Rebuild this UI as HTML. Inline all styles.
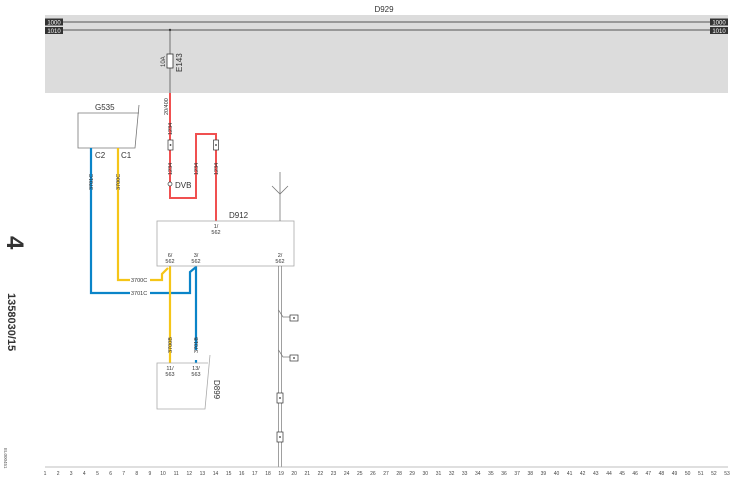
<!DOCTYPE html>
<html><head><meta charset="utf-8"><style>
html,body{margin:0;padding:0;background:#fff;}
svg{display:block;font-family:"Liberation Sans",sans-serif;}
</style></head><body>
<svg width="744" height="486" viewBox="0 0 744 486" xmlns="http://www.w3.org/2000/svg">
<rect x="45" y="15" width="683" height="78" fill="#dcdcdc"/>
<text x="384" y="12" font-size="8" text-anchor="middle" fill="#333">D929</text>
<line x1="63" y1="22" x2="710" y2="22" stroke="#555" stroke-width="1"/>
<line x1="63" y1="30" x2="710" y2="30" stroke="#555" stroke-width="1"/>
<rect x="45" y="18.5" width="18" height="7" fill="#333"/><text x="54" y="24.5" font-size="6" fill="#fff" text-anchor="middle">1000</text>
<rect x="45" y="27" width="18" height="7" fill="#333"/><text x="54" y="33" font-size="6" fill="#fff" text-anchor="middle">1010</text>
<rect x="710" y="18.5" width="18" height="7" fill="#333"/><text x="719" y="24.5" font-size="6" fill="#fff" text-anchor="middle">1000</text>
<rect x="710" y="27" width="18" height="7" fill="#333"/><text x="719" y="33" font-size="6" fill="#fff" text-anchor="middle">1010</text>
<circle cx="170" cy="30" r="1.2" fill="#333"/>
<line x1="170" y1="30" x2="170" y2="93" stroke="#555" stroke-width="0.8"/>
<rect x="167" y="54" width="6" height="14" fill="#fff" stroke="#333" stroke-width="0.8"/>
<text transform="translate(165,67) rotate(-90)" font-size="6" fill="#333">10A</text>
<text transform="translate(182,72) rotate(-90)" font-size="8" fill="#333">E143</text>
<!-- red wires -->
<g stroke="#f05050" stroke-width="2" fill="none">
<polyline points="170,93 170,198 196,198 196,134 216,134 216,222"/>
</g>
<g font-size="5.5" fill="#333">
<text transform="translate(168,115) rotate(-90)">20/400</text>
<text transform="translate(172,135) rotate(-90)">1234</text>
<text transform="translate(172,175) rotate(-90)">1234</text>
<text transform="translate(198,175) rotate(-90)">1234</text>
<text transform="translate(218,175) rotate(-90)">1234</text>
</g>
<rect x="168" y="140" width="5" height="10" fill="#fff" stroke="#333" stroke-width="0.7"/><circle cx="170.5" cy="145" r="0.9" fill="#333"/>
<rect x="213.5" y="140" width="5" height="10" fill="#fff" stroke="#333" stroke-width="0.7"/><circle cx="216" cy="145" r="0.9" fill="#333"/>
<circle cx="170" cy="184" r="2" fill="#fff" stroke="#333" stroke-width="0.7"/>
<text x="175" y="188" font-size="8" fill="#333">DVB</text>
<!-- G535 -->
<text x="95" y="110" font-size="8" fill="#333">G535</text>
<polyline points="139,105 135,148 78,148 78,113 139,113" fill="none" stroke="#777" stroke-width="0.8"/>
<text x="95" y="158" font-size="8" fill="#333">C2</text>
<text x="121" y="158" font-size="8" fill="#333">C1</text>
<!-- blue & yellow -->
<g fill="none" stroke-width="2.2">
<polyline points="91,148 91,293 130,293" stroke="#0a84c8"/>
<polyline points="150,293 190,293 190,272 196,267 196,350" stroke="#0a84c8"/>
<polyline points="196,360 196,363" stroke="#0a84c8"/>
<polyline points="118,148 118,280 130,280" stroke="#f5c518"/>
<polyline points="150,280 162,280 162,274 168,268" stroke="#f5c518"/>
<polyline points="170,266 170,363" stroke="#f5c518"/>
</g>
<g font-size="5.5" fill="#333">
<text transform="translate(93,190) rotate(-90)">3701C</text>
<text transform="translate(120,190) rotate(-90)">3700C</text>
<text x="131" y="282">3700C</text>
<text x="131" y="295">3701C</text>
<text transform="translate(172,353) rotate(-90)">3700B</text>
<text transform="translate(198,353) rotate(-90)">3701B</text>
</g>
<!-- D912 -->
<rect x="157" y="221" width="137" height="45" fill="#fff" stroke="#aaa" stroke-width="0.8"/>
<text x="229" y="218" font-size="8" fill="#333">D912</text>
<g font-size="5.5" fill="#333" text-anchor="middle">
<text x="216" y="228">1/</text><text x="216" y="234">562</text>
<text x="170" y="257">6/</text><text x="170" y="263">562</text>
<text x="196" y="257">3/</text><text x="196" y="263">562</text>
<text x="280" y="257">2/</text><text x="280" y="263">562</text>
<text x="170" y="370">11/</text><text x="170" y="376">563</text>
<text x="196" y="370">13/</text><text x="196" y="376">563</text>
</g>
<!-- ground antenna -->
<g stroke="#777" stroke-width="0.8" fill="none">
<line x1="280" y1="172" x2="280" y2="221"/>
<polyline points="272,186 280,194 288,186"/>
</g>
<!-- D899 -->
<polyline points="210,355 205,409 157,409 157,363 208,363" fill="none" stroke="#aaa" stroke-width="0.8"/>
<text transform="translate(214,380) rotate(90)" font-size="8" fill="#333">D899</text>
<!-- ground double wire -->
<g stroke="#777" stroke-width="0.7" fill="none">
<line x1="278.5" y1="266" x2="278.5" y2="467"/>
<line x1="281.5" y1="266" x2="281.5" y2="467"/>
<polyline points="278.5,310 283,317 290,317"/>
<polyline points="278.5,350 283,357 290,357"/>
</g>
<rect x="290" y="315" width="8" height="6" fill="#fff" stroke="#333" stroke-width="0.7"/><circle cx="294" cy="318" r="0.9" fill="#333"/>
<rect x="290" y="355" width="8" height="6" fill="#fff" stroke="#333" stroke-width="0.7"/><circle cx="294" cy="358" r="0.9" fill="#333"/>
<rect x="277" y="393" width="6" height="10" fill="#fff" stroke="#333" stroke-width="0.7"/><circle cx="280" cy="398" r="0.9" fill="#333"/>
<rect x="277" y="432" width="6" height="10" fill="#fff" stroke="#333" stroke-width="0.7"/><circle cx="280" cy="437" r="0.9" fill="#333"/>
<!-- left texts -->
<text transform="translate(7,236) rotate(90)" font-size="24" font-weight="bold" fill="#333">4</text>
<text transform="translate(8,293) rotate(90)" font-size="11" font-weight="bold" fill="#333">1358030/15</text>
<text transform="translate(4,448) rotate(90)" font-size="4.5" fill="#555">EL000451</text>
<!-- scale -->
<line x1="45" y1="467" x2="728" y2="467" stroke="#aaa" stroke-width="0.7"/>
<g font-size="5" fill="#444" text-anchor="middle" id="sc"></g>
<g font-size="5" fill="#444" text-anchor="middle">
<text x="45" y="475">1</text><text x="58.1" y="475">2</text><text x="71.2" y="475">3</text><text x="84.3" y="475">4</text><text x="97.5" y="475">5</text><text x="110.6" y="475">6</text><text x="123.7" y="475">7</text><text x="136.8" y="475">8</text><text x="149.9" y="475">9</text><text x="163" y="475">10</text><text x="176.2" y="475">11</text><text x="189.3" y="475">12</text><text x="202.4" y="475">13</text><text x="215.5" y="475">14</text><text x="228.6" y="475">15</text><text x="241.7" y="475">16</text><text x="254.8" y="475">17</text><text x="268" y="475">18</text><text x="281.1" y="475">19</text><text x="294.2" y="475">20</text><text x="307.3" y="475">21</text><text x="320.4" y="475">22</text><text x="333.5" y="475">23</text><text x="346.6" y="475">24</text><text x="359.8" y="475">25</text><text x="372.9" y="475">26</text><text x="386" y="475">27</text><text x="399.1" y="475">28</text><text x="412.2" y="475">29</text><text x="425.3" y="475">30</text><text x="438.5" y="475">31</text><text x="451.6" y="475">32</text><text x="464.7" y="475">33</text><text x="477.8" y="475">34</text><text x="490.9" y="475">35</text><text x="504" y="475">36</text><text x="517.1" y="475">37</text><text x="530.3" y="475">38</text><text x="543.4" y="475">39</text><text x="556.5" y="475">40</text><text x="569.6" y="475">41</text><text x="582.7" y="475">42</text><text x="595.8" y="475">43</text><text x="609" y="475">44</text><text x="622.1" y="475">45</text><text x="635.2" y="475">46</text><text x="648.3" y="475">47</text><text x="661.4" y="475">48</text><text x="674.5" y="475">49</text><text x="687.6" y="475">50</text><text x="700.8" y="475">51</text><text x="713.9" y="475">52</text><text x="727" y="475">53</text>
</g>
</svg>
</body></html>
